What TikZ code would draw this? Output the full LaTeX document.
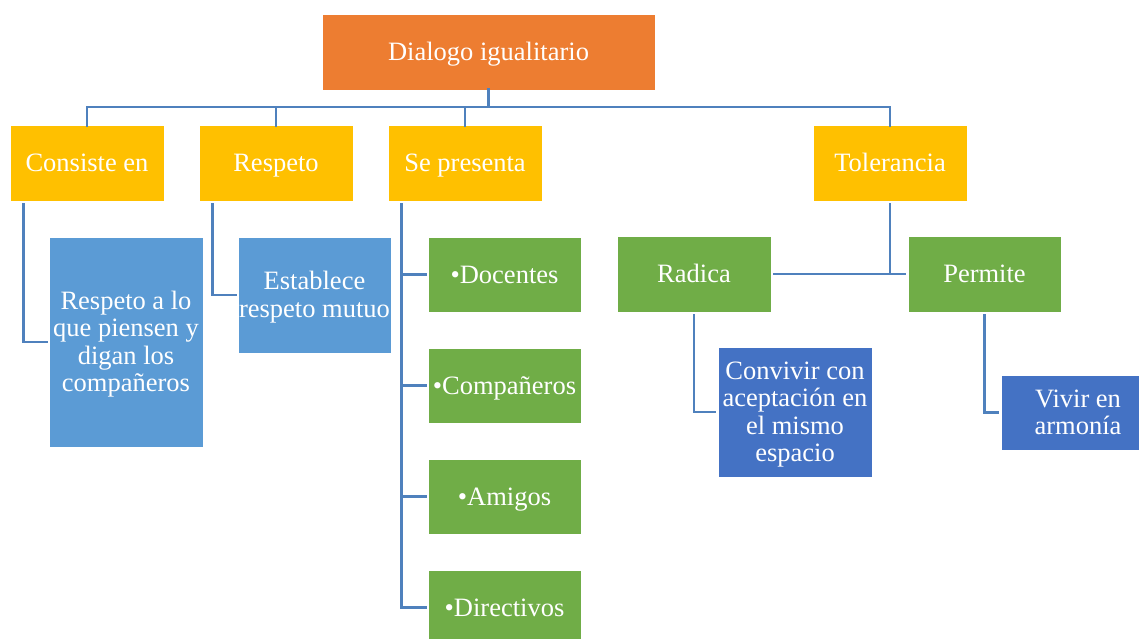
\documentclass[tikz,border=0pt]{standalone}
\usepackage{fontspec}
\setmainfont{Liberation Serif}
\definecolor{cOrange}{HTML}{ED7D31}
\definecolor{cYellow}{HTML}{FFC000}
\definecolor{cGreen}{HTML}{70AD47}
\definecolor{cLBlue}{HTML}{5B9BD5}
\definecolor{cDBlue}{HTML}{4472C4}
\definecolor{cLine}{RGB}{79,129,189}
\newcommand\mytop{\rule{0pt}{23pt}}
\newcommand\mybot{\rule[-6pt]{0pt}{6pt}}
\tikzset{
  box/.style={rectangle, inner sep=0pt, text=white, draw=white, line width=0.8pt,
    minimum width=154pt, minimum height=76pt, align=center,
    font=\fontsize{26.5}{27.2}\selectfont},
  conn/.style={draw=cLine, line width=2.6pt},
}
\begin{document}
\begin{tikzpicture}[x=1pt,y=-1pt]
\useasboundingbox (0,0) rectangle (1139,639);
\clip (0,0) rectangle (1139,639);
\fill[white] (0,0) rectangle (1139,639);
% root
\node[box, fill=cOrange, minimum width=333pt] (root) at (488.5,52) {\mytop Dialogo igualitario\mybot};
% level 1
\node[box, fill=cYellow] (c1) at (87,163) {\mytop Consiste en\mybot};
\node[box, fill=cYellow] (c2) at (276,163) {\mytop Respeto\mybot};
\node[box, fill=cYellow] (c3) at (465,163) {\mytop Se presenta\mybot};
\node[box, fill=cYellow] (c4) at (890,163) {\mytop Tolerancia\mybot};
% level 2
\node[box, fill=cLBlue, minimum height=210pt] (d1) at (126,342) {\mytop Respeto a lo\\que piensen y\\digan los\\compañeros\mybot};
\node[box, fill=cLBlue, minimum height=116pt, minimum width=153pt] (d2) at (314.5,295) {\mytop Establece\\respeto mutuo\mybot};
\node[box, fill=cGreen, minimum width=153pt, minimum height=75pt] (g1) at (504.5,274.5) {\mytop\textbullet Docentes\mybot};
\node[box, fill=cGreen, minimum width=153pt, minimum height=75pt] (g2) at (504.5,385.5) {\mytop\textbullet Compañeros\mybot};
\node[box, fill=cGreen, minimum width=153pt, minimum height=75pt] (g3) at (504.5,496.5) {\mytop\textbullet Amigos\mybot};
\node[box, fill=cGreen, minimum width=153pt, minimum height=75pt] (g4) at (504.5,607.5) {\mytop\textbullet Directivos\mybot};
\node[box, fill=cGreen] (rad) at (694,274) {\mytop Radica\mybot};
\node[box, fill=cGreen, minimum width=153pt] (per) at (984.5,274) {\mytop Permite\mybot};
\node[box, fill=cDBlue, minimum height=130pt] (conv) at (795,412) {\mytop Convivir con\\aceptación en\\el mismo\\espacio\mybot};
\node[box, fill=cDBlue, minimum height=75pt] (viv) at (1078,412.5) {\mytop Vivir en\\armonía\mybot};
% bus
\coordinate (bus) at (488.5,107);
\draw[conn] ([yshift=2pt]root.south) -- (bus);
\foreach \c in {c1,c2,c3,c4}{
  \draw[conn] (bus) -| ([yshift=-2pt]\c.north);
}
% drops from left edges
\draw[conn] ([xshift=14pt,yshift=-2pt]c1.south west) |- ([xshift=-1pt]d1.west);
\draw[conn] ([xshift=14pt,yshift=-2pt]c2.south west) |- ([xshift=-1pt]d2.west);
\foreach \g in {g1,g2,g3,g4}{
  \draw[conn] ([xshift=14pt,yshift=-2pt]c3.south west) |- ([xshift=-1pt]\g.west);
}
% tolerancia
\draw[conn] ([yshift=-2pt]c4.south) -- (c4.south |- rad.east);
\draw[conn] ([xshift=2pt]rad.east) -- ([xshift=-2pt]per.west);
\draw[conn] ([yshift=-2pt]rad.south) |- ([xshift=-2pt]conv.west);
\draw[conn] ([yshift=-2pt]per.south) |- ([xshift=-2pt]viv.west);
\end{tikzpicture}
\end{document}
